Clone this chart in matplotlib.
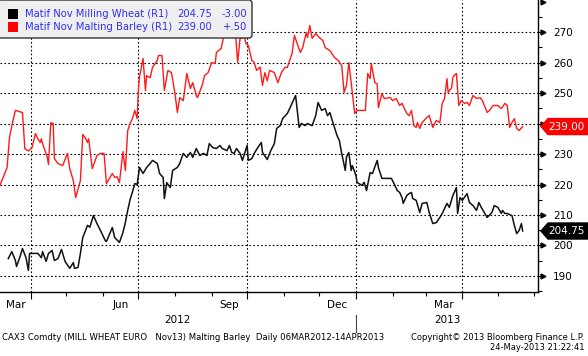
import datetime as dt
import matplotlib
matplotlib.use("Agg")
import matplotlib.pyplot as plt
import matplotlib.dates as mdates
import matplotlib.transforms as mtrans
from matplotlib.patches import FancyBboxPatch, Polygon, Rectangle

plt.rcParams['font.family'] = ['DejaVu Sans']

START = dt.date(2012, 3, 6)

# days after 06-Mar-2012, value
red_days = [0, 6, 8, 10, 13, 19, 21, 24, 27, 30, 32, 34, 35, 36, 40, 41, 43, 45, 46, 49,
            53, 57, 59, 62, 64, 68, 70, 72, 74, 75, 78, 82, 85, 88, 90, 95, 97, 99, 101, 104,
            106, 108, 110, 112, 114, 116, 117, 118, 121, 123, 124, 127, 129, 133, 134, 137, 139, 142, 145, 148,
            150, 152, 155, 158, 161, 163, 166, 167, 171, 173, 176, 179, 182, 183, 187, 189, 192, 194, 198, 199,
            201, 203, 205, 206, 208, 210, 213, 215, 217, 220, 222, 224, 226, 228, 232, 235, 238, 241, 243, 247,
            249, 251, 254, 256, 259, 260, 262, 264, 267, 270, 273, 275, 279, 283, 286, 289, 291, 293, 295, 297,
            300, 302, 309, 311, 313, 314, 317, 319, 320, 323, 325, 330, 332, 335, 338, 340, 344, 346, 348, 350,
            352, 353, 355, 357, 361, 363, 366, 369, 372, 374, 376, 378, 379, 382, 383, 384, 386, 388, 390, 393,
            395, 397, 400, 403, 406, 408, 412, 414, 417, 421, 424, 427, 429, 431, 433, 435, 437, 439, 442]
red_vals = [219.7, 225.6, 235.4, 239.3, 244.3, 243.6, 231.8, 231.0, 232.0, 236.7, 235.0, 233.8, 235.0, 233.4, 228.9, 226.6, 240.3, 240.0, 228.5, 226.9,
            226.2, 230.2, 225.2, 221.3, 215.7, 221.3, 236.4, 235.4, 233.8, 235.0, 225.2, 229.5, 230.2, 230.2, 220.3, 223.6, 222.3, 222.6, 220.6, 230.8,
            224.6, 237.7, 240.0, 241.6, 244.3, 241.6, 250.8, 255.4, 261.3, 250.8, 255.7, 255.0, 258.4, 260.7, 262.3, 262.3, 250.8, 257.4, 256.7, 249.8,
            243.6, 248.5, 247.5, 256.4, 251.5, 253.4, 249.2, 248.5, 252.5, 255.7, 256.7, 260.0, 259.7, 263.3, 264.6, 268.2, 269.8, 270.5, 270.8, 270.5,
            260.0, 267.9, 267.9, 269.5, 266.2, 265.6, 260.7, 260.0, 257.4, 258.5, 252.5, 256.7, 254.0, 257.4, 256.7, 253.4, 256.7, 258.4, 258.4, 263.0,
            268.9, 266.6, 263.3, 264.9, 269.8, 268.2, 272.1, 267.9, 269.5, 268.2, 267.2, 264.9, 263.9, 261.6, 260.7, 259.0, 250.2, 252.5, 260.0, 253.4,
            243.3, 244.3, 244.3, 256.4, 254.7, 259.7, 253.4, 253.0, 245.2, 249.8, 248.2, 248.5, 247.5, 248.2, 245.9, 246.6, 243.3, 242.6, 244.3, 239.3,
            238.7, 240.3, 238.4, 240.3, 242.0, 242.6, 238.7, 241.0, 240.3, 246.6, 248.2, 254.7, 250.2, 251.8, 255.1, 255.7, 256.4, 245.9, 247.5, 246.6,
            246.9, 245.9, 249.2, 248.2, 248.5, 247.5, 243.6, 244.3, 245.9, 245.9, 244.9, 246.6, 245.9, 238.7, 240.3, 241.6, 238.4, 237.7, 239.0]

wheat_days = [7, 10, 13, 14, 17, 19, 22, 24, 25, 28, 32, 35, 36, 39, 41, 44, 46, 49, 52, 55,
              59, 62, 63, 66, 68, 70, 74, 76, 79, 82, 85, 89, 90, 95, 97, 101, 104, 106, 108, 110,
              112, 114, 116, 118, 121, 124, 127, 129, 133, 135, 138, 139, 141, 144, 146, 150, 152, 155, 158, 161,
              163, 166, 169, 172, 175, 177, 180, 183, 186, 188, 192, 194, 196, 198, 200, 203, 205, 209, 210, 213,
              215, 218, 221, 222, 226, 229, 232, 234, 237, 239, 243, 245, 248, 250, 253, 255, 258, 260, 264, 267,
              269, 272, 275, 277, 279, 281, 285, 287, 289, 292, 293, 295, 297, 298, 301, 302, 306, 308, 310, 313,
              315, 319, 320, 323, 327, 331, 334, 336, 338, 340, 341, 344, 346, 348, 349, 352, 355, 357, 361, 363,
              366, 369, 372, 374, 378, 380, 383, 386, 387, 389, 391, 395, 397, 400, 403, 405, 407, 410, 412, 416,
              418, 421, 424, 425, 427, 429, 433, 435, 437, 439, 441, 442]
wheat_vals = [195.7, 198.0, 195.1, 193.1, 196.4, 199.0, 196.0, 191.8, 197.4, 197.4, 197.4, 196.0, 198.0, 194.8, 197.4, 198.4, 195.1, 195.7, 198.7, 194.8,
              192.5, 194.4, 192.5, 192.8, 197.4, 202.6, 206.6, 206.0, 209.8, 207.2, 204.9, 201.6, 201.3, 205.9, 202.6, 201.0, 204.3, 207.5, 211.5, 215.0,
              217.5, 220.3, 220.0, 225.6, 223.6, 225.6, 226.9, 227.9, 226.9, 223.6, 222.3, 215.4, 220.6, 219.0, 224.6, 225.6, 226.9, 230.2, 228.9, 230.5,
              228.9, 231.8, 229.5, 230.2, 229.5, 233.4, 232.1, 231.8, 232.8, 231.8, 231.1, 232.8, 230.5, 230.2, 231.8, 230.2, 227.9, 232.8, 227.9, 228.5,
              230.2, 232.1, 233.8, 230.5, 228.2, 231.1, 233.4, 238.4, 239.3, 241.6, 243.3, 244.9, 247.5, 249.2, 238.7, 240.0, 239.3, 240.0, 239.3, 242.6,
              246.9, 244.3, 244.9, 242.6, 243.6, 241.0, 236.1, 234.4, 230.2, 224.6, 228.9, 230.5, 224.6, 226.2, 223.0, 220.7, 219.7, 220.7, 218.0, 223.9,
              223.6, 227.9, 225.6, 222.0, 222.0, 222.0, 219.7, 218.0, 217.4, 215.7, 213.8, 216.4, 217.0, 217.4, 215.4, 214.8, 210.8, 213.8, 214.1, 210.8,
              207.2, 207.5, 209.2, 210.5, 213.8, 212.5, 216.4, 219.0, 210.5, 215.7, 214.8, 217.0, 214.1, 213.1, 211.5, 214.1, 212.5, 210.5, 209.2, 210.8,
              213.1, 212.5, 210.5, 211.5, 210.5, 210.5, 209.8, 206.6, 203.9, 204.9, 207.2, 204.75]

legend_names = ["Matif Nov Milling Wheat (R1)", "Matif Nov Malting Barley (R1)"]
legend_last = ["204.75", "239.00"]
legend_chg = ["-3.00", "+.50"]
yticks = [190, 200, 210, 220, 230, 240, 250, 260, 270]
ytick_labels = ["190", "200", "210", "220", "230", "", "250", "260", "270"]  # 240 sits under the red tag
month_labels = [("Mar", 2012, 3), ("Jun", 2012, 6), ("Sep", 2012, 9), ("Dec", 2012, 12), ("Mar", 2013, 3)]
footer_left = "CAX3 Comdty (MILL WHEAT EURO   Nov13) Malting Barley  Daily 06MAR2012-14APR2013"
footer_copy = "Copyright\u00a9 2013 Bloomberg Finance L.P."
footer_time = "24-May-2013 21:22:41"

RED = '#ff1a1a'
BLUE = '#3030f0'

def to_dates(days):
    return [START + dt.timedelta(days=d) for d in days]

W, H = 588, 356
fig = plt.figure(figsize=(W / 100, H / 100), dpi=100)
ax = fig.add_axes([0, 1 - 292 / H, 538 / W, 292 / H])

x0 = dt.date(2012, 3, 6)
x1 = dt.date(2013, 6, 4)
ax.set_xlim(x0, x1)
ax.set_ylim(184.75, 280.5)

ax.plot(to_dates(red_days), red_vals, color=RED, lw=1.0, zorder=4)
ax.plot(to_dates(wheat_days), wheat_vals, color='#111111', lw=1.1, zorder=4)

# axes / ticks
for s in ['left', 'top']:
    ax.spines[s].set_visible(False)
ax.spines['right'].set_linewidth(1.0)
ax.spines['bottom'].set_linewidth(1.0)

ax.xaxis.set_major_locator(mdates.MonthLocator(bymonth=[1, 4, 7, 10]))
ax.xaxis.set_minor_locator(mdates.MonthLocator())
ax.xaxis.set_major_formatter(plt.NullFormatter())
ax.tick_params(axis='x', which='major', length=5, width=0.8, direction='out')
ax.tick_params(axis='x', which='minor', length=3, width=0.8, direction='out')

ax.yaxis.tick_right()
ax.set_yticks(yticks)
ax.set_yticklabels(ytick_labels)
ax.set_yticks([v + 5 for v in range(180, 280, 10)], minor=True)
ax.tick_params(axis='y', which='major', length=3, width=0.8, pad=8, labelsize=7.5)
ax.tick_params(axis='y', which='minor', length=3, width=0.8)

ax.grid(True, which='major', axis='both', color='black', linestyle=(0, (1.5, 2)), lw=0.8)
ax.set_axisbelow(True)

# small arrow heads at the right axis ticks
tri = mtrans.blended_transform_factory(ax.transAxes, ax.transData)
ax.plot([1 + 5 / 538] * (len(yticks) + 1), yticks + [280], linestyle='none', marker='>',
        markersize=3.5, color='black', transform=tri, clip_on=False)

# month and year labels below the axis
bt = mtrans.blended_transform_factory(ax.transData, fig.transFigure)
for name, yr, mo in month_labels:
    a = max(dt.date(yr, mo, 1), x0)
    b = dt.date(yr + (mo // 12), mo % 12 + 1, 1)
    mid = a + (b - a) / 2
    fig.text(mdates.date2num(mid), 1 - 304.5 / H, name, transform=bt, ha='center', va='center', fontsize=7.5)
jan = dt.date(2013, 1, 1)
fig.text(mdates.date2num(x0 + (jan - x0) / 2), 1 - 320 / H, "2012", transform=bt, ha='center', va='center', fontsize=7.5)
fig.text(mdates.date2num(jan + (x1 - jan) / 2), 1 - 320 / H, "2013", transform=bt, ha='center', va='center', fontsize=7.5)
fig.lines.append(plt.Line2D([mdates.date2num(jan)] * 2, [1 - 315 / H, 1 - 332 / H], transform=bt, color='#444444', lw=0.8))

# footer
fig.text(2 / W, 1 - 337 / H, footer_left, ha='left', va='center', fontsize=6.1)
fig.text(584 / W, 1 - 337 / H, footer_copy, ha='right', va='center', fontsize=6)
fig.text(585 / W, 1 - 348 / H, footer_time, ha='right', va='center', fontsize=6)

# legend box (pixel coords, y down)
flip = mtrans.Affine2D().scale(1, -1).translate(0, H)
box = FancyBboxPatch((-2, 0), 254, 38, boxstyle='round,pad=0,rounding_size=3',
                     fc='#efefef', ec='#333333', lw=1.0, transform=flip)
box.set_zorder(0.2)
fig.patches.append(box)
colors = ['#000000', '#ff0000']
for i in range(2):
    yc = 14 + 13 * i
    sq = Rectangle((8, yc - 5), 10, 10, fc=colors[i], ec='none', transform=flip)
    fig.patches.append(sq)
    fig.text(25 / W, 1 - yc / H, legend_names[i], ha='left', va='center', fontsize=7.2, color=BLUE)
    fig.text(177 / W, 1 - yc / H, legend_last[i], ha='left', va='center', fontsize=7.2, color=BLUE)
    fig.text(247 / W, 1 - yc / H, legend_chg[i], ha='right', va='center', fontsize=7.2, color=BLUE)

# last value tags
fig.canvas.draw()
for val, col in [(239.00, '#ff0000'), (204.75, '#000000')]:
    yp = ax.transData.transform((0, val))[1]
    poly = Polygon([(541, yp), (548, yp + 8), (588, yp + 8), (588, yp - 8), (548, yp - 8)],
                   closed=True, fc=col, ec=col, transform=None, zorder=10)
    fig.artists.append(poly)
    fig.text(548 / W, yp / H, "%.2f" % val, ha='left', va='center', fontsize=7.5, color='white', zorder=11)

fig.savefig("out.png", dpi=100)
